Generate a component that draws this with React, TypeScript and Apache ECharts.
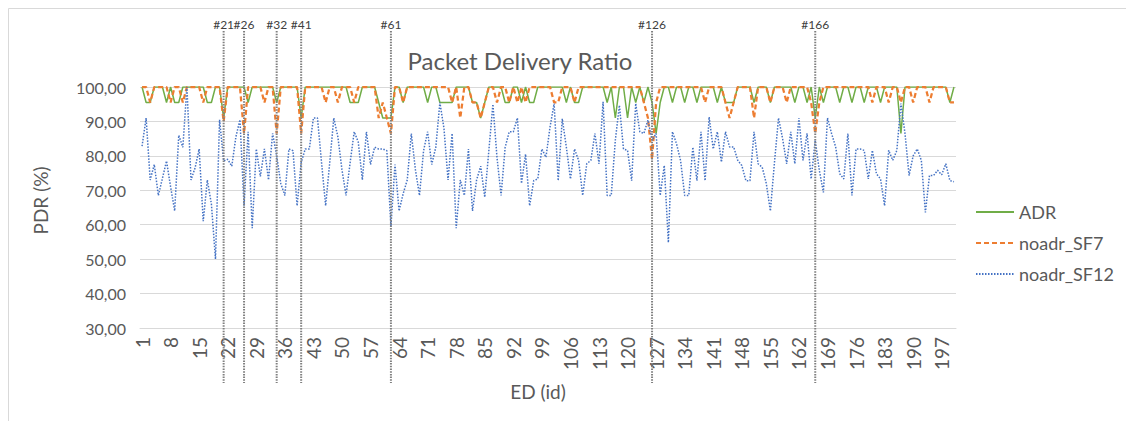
import React, { useEffect, useRef } from "react";
import * as echarts from "echarts";

// ---- data ----
const edIds: string[] = Array.from({ length: 200 }, (_, i) => String(i + 1));

const adr: number[] = [
  100, 95.5, 95.5, 100, 100, 100, 95.5, 100, 95.5, 95.5,
  100, 100, 100, 100, 100, 100, 95.5, 95.5, 100, 100,
  91, 100, 100, 100, 100, 100, 95.5, 100, 100, 100,
  100, 100, 100, 95.5, 100, 100, 100, 100, 100, 91,
  100, 100, 100, 100, 100, 100, 100, 100, 100, 100,
  100, 95.5, 95.5, 95.5, 100, 100, 100, 100, 95.5, 91,
  91, 91, 100, 100, 95.5, 100, 100, 100, 100, 100,
  95.5, 100, 100, 95.5, 95.5, 95.5, 95.5, 100, 100, 100,
  100, 95.5, 95.5, 91, 95.5, 100, 100, 100, 100, 95.5,
  95.5, 100, 100, 95.5, 100, 95.5, 95.5, 100, 100, 100,
  100, 100, 100, 100, 95.5, 100, 95.5, 95.5, 100, 100,
  100, 100, 100, 100, 95.5, 100, 91, 100, 100, 91,
  100, 95.5, 100, 95.5, 100, 95.5, 86.5, 95.5, 100, 100,
  95.5, 100, 100, 95.5, 100, 100, 95.5, 100, 100, 100,
  100, 95.5, 100, 95.5, 95.5, 95.5, 100, 100, 100, 100,
  95.5, 100, 100, 100, 95.5, 100, 100, 100, 100, 100,
  95.5, 100, 100, 95.5, 100, 91, 100, 95.5, 100, 100,
  100, 95.5, 100, 100, 95.5, 100, 100, 95.5, 100, 100,
  100, 95.5, 100, 100, 100, 100, 86.5, 100, 100, 100,
  100, 100, 100, 100, 100, 100, 100, 100, 95.5, 100,
];

const noadrSF7: number[] = [
  100, 100, 95.5, 100, 100, 100, 100, 95.5, 100, 100,
  95.5, 100, 100, 100, 100, 95.5, 100, 100, 100, 100,
  90, 100, 100, 100, 100, 86.5, 100, 100, 100, 100,
  95.5, 100, 100, 86.5, 100, 100, 100, 100, 100, 86.5,
  100, 100, 100, 100, 100, 95.5, 100, 100, 95.5, 100,
  100, 100, 95.5, 100, 100, 100, 100, 100, 91, 95.5,
  91, 86.5, 100, 100, 95.5, 100, 100, 100, 100, 100,
  100, 100, 100, 100, 100, 100, 95.5, 100, 91, 100,
  100, 95.5, 95.5, 91, 95.5, 100, 100, 95.5, 100, 100,
  95.5, 100, 95.5, 100, 95.5, 100, 100, 100, 100, 100,
  100, 95.5, 95.5, 100, 100, 100, 95.5, 100, 100, 100,
  100, 100, 100, 100, 100, 100, 100, 100, 100, 100,
  100, 100, 100, 95.5, 91, 79, 95.5, 100, 100, 100,
  100, 100, 100, 100, 100, 100, 100, 100, 95.5, 100,
  100, 100, 100, 95.5, 91, 95.5, 100, 100, 100, 100,
  91, 100, 100, 100, 95.5, 100, 100, 100, 95.5, 100,
  100, 100, 100, 100, 95.5, 86.5, 95.5, 100, 100, 100,
  100, 100, 100, 100, 100, 100, 100, 100, 100, 95.5,
  100, 100, 100, 95.5, 100, 100, 95.5, 100, 100, 95.5,
  100, 100, 100, 95.5, 100, 100, 100, 100, 95.5, 95.5,
];

const noadrSF12: number[] = [
  82.8, 91, 73, 77.5, 68.5, 73.5, 78.5, 71, 64, 86,
  82.5, 100, 73, 76.5, 82, 61, 73, 66, 50, 90.5,
  78.5, 79, 77, 85.5, 90.5, 65.5, 87, 59, 82, 74,
  82, 73, 86.5, 80, 72, 68.5, 82, 81.5, 65.5, 78,
  82, 82, 91, 91, 78, 65.5, 78, 91, 85.5, 76,
  68.5, 78, 87, 84, 73, 87, 77.5, 82.5, 82, 82,
  81.5, 59.5, 77.5, 64, 69, 73, 86.5, 76, 68.5, 81.5,
  87, 77.5, 82.5, 95.5, 88, 73, 86.5, 59, 73, 68.5,
  82, 64, 73, 77, 68, 81.5, 95, 79.5, 68.5, 82.5,
  87, 87, 91, 72, 80.5, 65.5, 72.8, 73.3, 82, 79.6,
  88.4, 95.2, 72.8, 90.8, 82.5, 73.3, 82, 78.7, 68.5, 77.7,
  78.7, 86.5, 77.7, 95.7, 68.5, 68.5, 84.5, 94.7, 82, 81.6,
  72.8, 95.2, 87, 86.5, 90.4, 84.5, 86.5, 68.5, 77.2, 54.8,
  87, 83.5, 78.6, 68.5, 68.5, 82.5, 72.8, 87, 72.8, 91.3,
  82, 87, 78.2, 87, 82.6, 82.6, 78.7, 77.2, 72.8, 72.8,
  87, 77.7, 76.7, 72, 64, 78, 91, 85, 77.7, 87,
  77.7, 91, 78.7, 86.5, 73.3, 84.5, 75.8, 69.4, 91, 86.5,
  82.6, 74.8, 73.3, 86.5, 68.5, 82, 82, 81.6, 73.3, 81.6,
  74.8, 73.3, 65.5, 81.6, 78.7, 81.6, 95.2, 86.5, 74.3, 80,
  82, 78.7, 63.6, 74.3, 74.3, 75.8, 74.5, 77.7, 72.8, 72.5,
];

// annotation labels as printed, and the ED position where each hand-drawn line sits
const markerLabels: string[] = ["#21", "#26", "#32", "#41", "#61", "#126", "#166"];
const markerAt: number[] = [21, 26, 34, 40, 62, 126, 166];

const yMin = 30;
const yMax = 100;
const yStep = 10;

const FONT = "Lato, 'Open Sans', sans-serif";
const TXT = "#595959";

export default function App() {
  const ref = useRef<HTMLDivElement>(null);

  useEffect(() => {
    if (!ref.current) return;
    const chart = echarts.init(ref.current, null, { renderer: "svg" });
    const option: any = {
      animation: false,
      backgroundColor: "#ffffff",
      textStyle: { fontFamily: FONT },
      title: {
        text: "Packet Delivery Ratio",
        left: 515,
        top: 43,
        textAlign: "center",
        textStyle: { fontFamily: FONT, fontSize: 24, fontWeight: "normal", color: TXT },
      },
      legend: {
        orient: "vertical",
        left: 970,
        top: 198,
        itemGap: 13,
        itemWidth: 38,
        itemHeight: 14,
        itemStyle: { opacity: 0 },
        textStyle: { fontFamily: FONT, fontSize: 18, color: TXT },
        data: ["ADR", "noadr_SF7", "noadr_SF12"],
      },
      grid: { left: 140, top: 87, width: 816, height: 241, containLabel: false },
      xAxis: {
        type: "category",
        data: edIds,
        boundaryGap: true,
        name: "ED (id)",
        nameLocation: "middle",
        nameGap: 54,
        nameTextStyle: { fontFamily: FONT, fontSize: 19, color: TXT, padding: [0, 20, 0, 0] },
        axisLine: { show: true, lineStyle: { color: "#d9d9d9", width: 1 } },
        axisTick: { show: false },
        axisLabel: {
          interval: 6,
          rotate: 90,
          margin: 9,
          fontFamily: FONT,
          fontSize: 19,
          color: TXT,
        },
        splitLine: { show: false },
      },
      yAxis: {
        type: "value",
        min: yMin,
        max: yMax,
        interval: yStep,
        name: "PDR (%)",
        nameLocation: "middle",
        nameGap: 90,
        nameTextStyle: { fontFamily: FONT, fontSize: 19, color: TXT, padding: [0, 0, 0, 14] },
        axisLine: { show: false },
        axisTick: { show: false },
        axisLabel: {
          margin: 14,
          fontFamily: FONT,
          fontSize: 16,
          color: TXT,
          formatter: (v: number) => v.toFixed(2).replace(".", ","),
        },
        splitLine: { show: true, lineStyle: { color: "#d9d9d9", width: 1 } },
      },
      series: [
        {
          name: "ADR",
          type: "line",
          data: adr,
          symbol: "none",
          lineStyle: { color: "#70AD47", width: 1.5, type: "solid" },
          itemStyle: { color: "#70AD47" },
        },
        {
          name: "noadr_SF7",
          type: "line",
          data: noadrSF7,
          symbol: "none",
          lineStyle: { color: "#ED7D31", width: 2.25, type: [5, 3] },
          itemStyle: { color: "#ED7D31" },
        },
        {
          name: "noadr_SF12",
          type: "line",
          data: noadrSF12,
          symbol: "none",
          lineStyle: { color: "#4472C4", width: 1.5, type: [1.5, 1.5] },
          itemStyle: { color: "#4472C4" },
        },
      ],
    };
    chart.setOption(option);

    const graphics: any[] = [
      {
        type: "polyline",
        silent: true,
        shape: { points: [[8.5, 430], [8.5, 8.5], [1130, 8.5]] },
        style: { stroke: "#d9d9d9", lineWidth: 1, fill: null },
      },
    ];
    markerAt.forEach((id, i) => {
      const x = chart.convertToPixel({ xAxisIndex: 0 }, String(id)) as number;
      graphics.push({
        type: "line",
        silent: true,
        z: 100,
        shape: { x1: x, y1: 31, x2: x, y2: 383 },
        style: { stroke: "#808080", lineWidth: 2, lineDash: [1.5, 1.2] },
      });
      graphics.push({
        type: "text",
        silent: true,
        z: 100,
        x: x,
        y: 24,
        style: {
          text: markerLabels[i],
          font: `12px ${FONT}`,
          fill: "#404040",
          textAlign: "center",
          textVerticalAlign: "middle",
          align: "center",
          verticalAlign: "middle",
        },
      });
    });
    chart.setOption({ graphic: graphics });

    return () => chart.dispose();
  }, []);

  return (
    <div
      ref={ref}
      style={{ position: "fixed", left: 0, top: 0, width: 1126, height: 421, background: "#fff" }}
    />
  );
}
